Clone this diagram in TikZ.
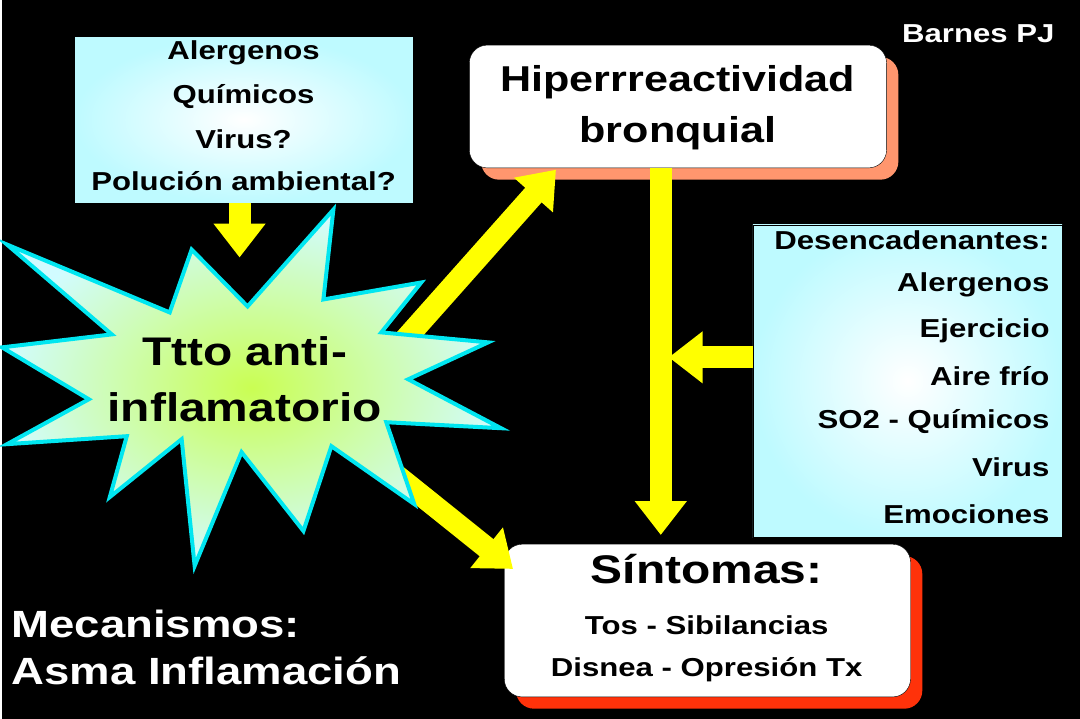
\documentclass[tikz,border=0pt]{standalone}
\usepackage{fontspec}
\setmainfont[FakeStretch=1.2]{Liberation Sans}
\usetikzlibrary{positioning,arrows.meta}
\definecolor{ylw}{RGB}{255,255,0}
\definecolor{cyanedge}{RGB}{0,230,240}
\definecolor{paleblue}{RGB}{190,250,255}
\definecolor{salmon}{RGB}{255,150,110}
\definecolor{redshadow}{RGB}{255,50,10}
\definecolor{starcore}{RGB}{205,255,40}

\tikzset{
  txt/.style={font=\bfseries\fontsize{#1}{#1}\selectfont},
  infobox/.style={draw=black,shading=radial,inner color=white,outer color=paleblue,
    inner sep=0pt},
  roundbox/.style={draw=black,fill=white,rounded corners=18pt,inner sep=0pt},
  fatarrow/.style={ylw,line width=22pt,-{Triangle[width=50pt,length=34pt]}}
}

\begin{document}
\begin{tikzpicture}[x=1pt,y=-1pt]
  \fill[black] (0,0) rectangle (1080,720);

  \node[txt=26,white,anchor=east] (author) at (1058,34) {Barnes PJ};

  % causes
  \node[infobox,minimum width=340pt,minimum height=167pt,anchor=north west] (causes) at (72,36) {};
  \foreach \t/\y in {Alergenos/53,Químicos/97,Virus?/139,Polución ambiental?/181}
    \node[txt=26] at (242,\y) {\t};

  % hyperreactivity
  \fill[salmon,rounded corners=18pt] (480,57) rectangle (898,180);
  \node[roundbox,minimum width=418pt,minimum height=123pt,anchor=north west] (hyper) at (468,45) {};
  \node[txt=36] (hyp1) at (677,82) {Hiperrreactividad};
  \node[txt=36] (hyp2) at (677,133) {bronquial};

  % triggers
  \node[infobox,minimum width=310pt,minimum height=313pt,anchor=north west] (triggers) at (752,225) {};
  \foreach \t/\y in {Desencadenantes:/241,Alergenos/285,Ejercicio/331,Aire frío/377,
    SO2 - Químicos/422,Virus/468,Emociones/515}
    \node[txt=26,anchor=east] at (1053,\y) {\t};

  % symptoms
  \fill[redshadow,rounded corners=18pt] (515,557) rectangle (922,710);
  \node[roundbox,minimum width=407pt,minimum height=153pt,anchor=north west] (sympt) at (503,545) {};
  \node[txt=40] (symtitle) at (706,570) {Síntomas:};
  \node[txt=26] at (706,626) {Tos - Sibilancias};
  \node[txt=26] at (706,671) {Disnea - Opresión Tx};

  % arrows
  \coordinate (c1) at (238,203);
  \coordinate (c2) at (238,258);
  \draw[fatarrow] (c1) -- (c2);
  \coordinate (s1) at (395,350);
  \coordinate (h1) at (555,170);
  \draw[fatarrow] (s1) -- (h1);
  \coordinate (s2) at (350,440);
  \coordinate (y1) at (512,570);
  \draw[fatarrow] (s2) -- (y1);
  \coordinate (h2) at (660,168);
  \coordinate (y2) at (660,536);
  \draw[fatarrow] (h2) -- (y2);
  \coordinate (t1) at (752,358);
  \coordinate (t2) at (668,358);
  \draw[fatarrow] (t1) -- (t2);

  % star
  \draw[cyanedge,line width=4pt,line join=miter,shading=radial,inner color=starcore!80!paleblue,outer color=paleblue!70!white]
    (190,250) -- (246,307) -- (332,210) -- (322,300) -- (420,283) -- (380,333)
    -- (487,343) -- (407,380) -- (500,429) -- (385,423) -- (413,505) -- (330,447)
    -- (302,532) -- (240,453) -- (193,567) -- (180,440) -- (108,498) -- (125,437)
    -- (5,445) -- (87,400) -- (0,348) -- (110,335) -- (5,245) -- (168,313) -- cycle;
  \node[txt=40] (treat1) at (243,352) {Ttto anti-};
  \node[txt=40] (treat2) at (243,408) {inflamatorio};

  \node[txt=38,white,anchor=west] (mech1) at (6,625) {Mecanismos:};
  \node[txt=38,white,anchor=west] (mech2) at (6,672) {Asma Inflamación};
\end{tikzpicture}
\end{document}
